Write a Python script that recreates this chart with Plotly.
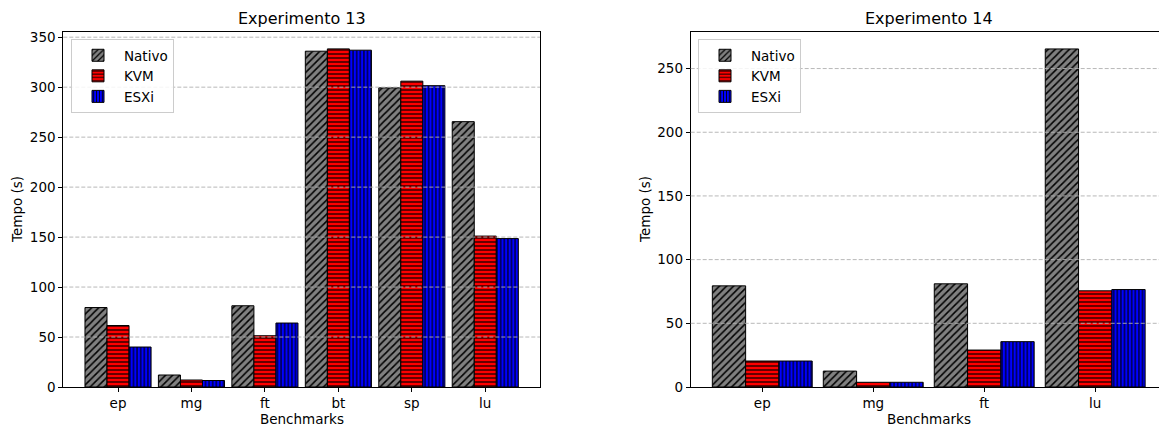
import plotly.graph_objects as go

W, H = 1159, 427

# ---- data ----
bench13 = ["ep", "mg", "ft", "bt", "sp", "lu"]
nativo13 = [79.5, 12, 81.3, 336, 299.3, 265.5]
kvm13 = [61.5, 7, 51.3, 338.3, 306, 151]
esxi13 = [40, 6.5, 64, 337, 301.5, 148.5]

bench14 = ["ep", "mg", "ft", "lu"]
nativo14 = [79.4, 12.5, 81, 265.4]
kvm14 = [20.4, 3.7, 29, 75.5]
esxi14 = [20.4, 3.7, 35.6, 76.5]

series_names = ["Nativo", "KVM", "ESXi"]
yticks13 = [0, 50, 100, 150, 200, 250, 300, 350]
yticks14 = [0, 50, 100, 150, 200, 250]

styles = {
    "Nativo": dict(color="#808080", shape="/", size=5),
    "KVM": dict(color="#ff0000", shape="-", size=4),
    "ESXi": dict(color="#0000ff", shape="|", size=3.6),
}

FONT = "DejaVu Sans"
FS = 13.5
fig = go.Figure()

def add_series(cats, vals_list, xa, ya, legend):
    for name, vals in zip(series_names, vals_list):
        st = styles[name]
        fig.add_trace(go.Bar(
            x=cats, y=vals, name=name, xaxis=xa, yaxis=ya, legend=legend,
            offsetgroup=name,
            marker=dict(
                color=st["color"],
                line=dict(color="black", width=1),
                pattern=dict(shape=st["shape"], size=st["size"], solidity=0.3,
                             fgcolor="black", bgcolor=st["color"], fillmode="replace"),
            ),
        ))

add_series(bench13, [nativo13, kvm13, esxi13], "x", "y", "legend")
add_series(bench14, [nativo14, kvm14, esxi14], "x2", "y2", "legend2")

def fy(px_from_top):
    return 1 - px_from_top / H

ydom = [fy(387), fy(32)]
x1dom = [63.3 / W, 540 / W]
x2dom = [690.7 / W, 1.0]

axis_common = dict(showline=True, linecolor="black", linewidth=0.9, automargin=False,
                   ticks="outside", ticklen=4, tickwidth=0.9, tickcolor="black",
                   showgrid=False, zeroline=False,
                   tickfont=dict(family=FONT, size=FS, color="black"))

legend_common = dict(xanchor="left", yanchor="top", itemwidth=42,
                     bgcolor="rgba(255,255,255,0.85)", bordercolor="#cccccc", borderwidth=1,
                     font=dict(family=FONT, size=FS, color="black"), tracegroupgap=0)

fig.update_layout(
    template="none",
    width=W, height=H, autosize=False,
    margin=dict(l=0, r=0, t=0, b=0, pad=0, autoexpand=False),
    paper_bgcolor="white", plot_bgcolor="white",
    barmode="group", bargap=0.1, bargroupgap=0,
    font=dict(family=FONT, size=FS, color="black"),
    xaxis=dict(domain=x1dom, anchor="y", range=[-0.745, 5.745], mirror=True, **axis_common),
    yaxis=dict(domain=ydom, anchor="x", range=[0, 355.2], tickvals=yticks13, mirror=True, **axis_common),
    xaxis2=dict(domain=x2dom, anchor="y2", range=[-0.645, 3.575], mirror=True, **axis_common),
    yaxis2=dict(domain=ydom, anchor="x2", range=[0, 278.7], tickvals=yticks14, mirror=False, **axis_common),
    legend=dict(x=71 / W, y=fy(39), **legend_common),
    legend2=dict(x=698 / W, y=fy(39), **legend_common),
)

# dashed horizontal grid drawn above bars (like the reference)
shapes = []
for xa, ya, ticks in (("x", "y", yticks13), ("x2", "y2", yticks14)):
    for v in ticks[1:]:
        shapes.append(dict(type="line", xref=f"{xa} domain", x0=0, x1=1,
                           yref=ya, y0=v, y1=v, layer="above",
                           line=dict(color="#b0b0b0", width=0.9, dash="4px,2px")))
fig.update_layout(shapes=shapes)

# titles and axis labels
ann = []
for cx, title in ((301.7 / W, "Experimento 13"), (928.5 / W, "Experimento 14")):
    ann.append(dict(text=title, x=cx, y=fy(18), xref="paper", yref="paper",
                    xanchor="center", yanchor="middle", showarrow=False,
                    font=dict(family=FONT, size=16, color="black")))
    ann.append(dict(text="Benchmarks", x=cx, y=fy(419), xref="paper", yref="paper",
                    xanchor="center", yanchor="middle", showarrow=False,
                    font=dict(family=FONT, size=FS, color="black")))
for lx in (17 / W, 645 / W):
    ann.append(dict(text="Tempo (s)", x=lx, y=fy(210), xref="paper", yref="paper",
                    xanchor="center", yanchor="middle", showarrow=False, textangle=-90,
                    font=dict(family=FONT, size=FS, color="black")))
fig.update_layout(annotations=ann)

fig.write_html("out.html",
               config={"responsive": False, "displayModeBar": False},
               post_script="document.body.style.margin='0';document.body.style.overflow='hidden';"
                           "document.documentElement.style.overflow='hidden';")
